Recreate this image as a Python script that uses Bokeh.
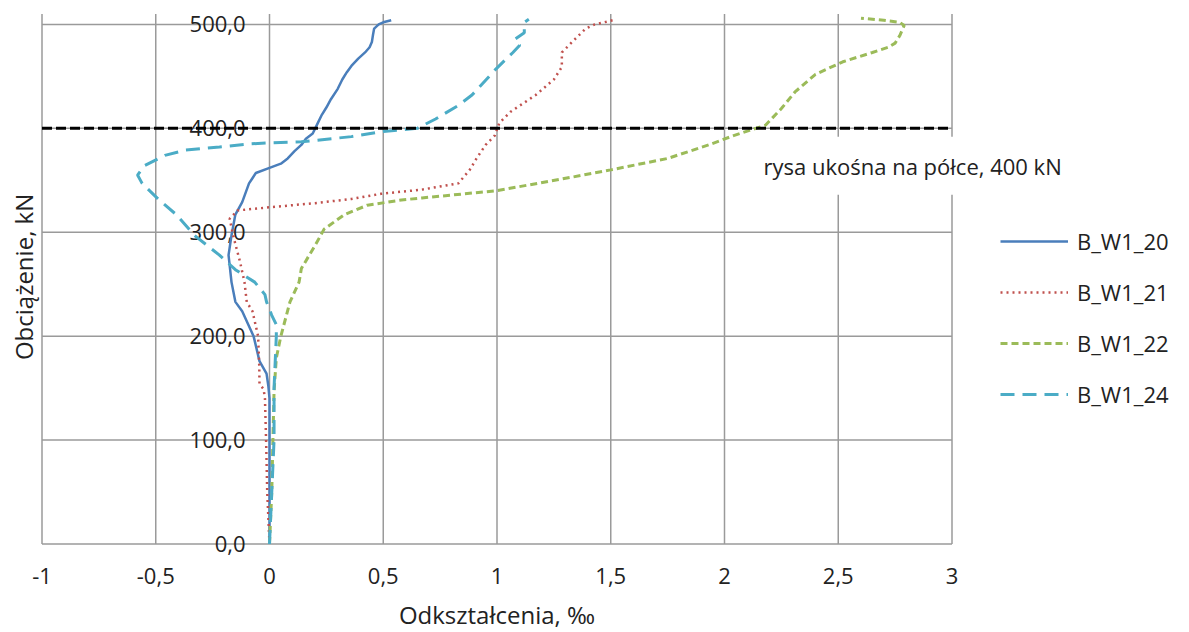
import math
from bokeh.plotting import figure
from bokeh.models import (Range1d, Label, Legend, LegendItem)
from bokeh.embed import file_html
from bokeh.resources import INLINE
from bokeh.core.properties import value

# ---------------- data ----------------
x_ticks = [-1, -0.5, 0, 0.5, 1, 1.5, 2, 2.5, 3]
x_tick_labels = ["-1", "-0,5", "0", "0,5", "1", "1,5", "2", "2,5", "3"]
y_ticks = [0, 100, 200, 300, 400, 500]
y_tick_labels = ["0,0", "100,0", "200,0", "300,0", "400,0", "500,0"]
y_top = 510          # upper end of the plot area (kN)

series_names = ["B_W1_20", "B_W1_21", "B_W1_22", "B_W1_24"]

y20 = [0, 50, 100, 140, 152, 164, 176, 200, 224, 233, 252, 278, 297, 317, 329,
       347, 352, 357, 362, 366, 371, 378, 384, 390, 395, 404, 413, 420, 428, 438,
       447, 454, 460, 467, 473, 478, 483, 490, 496, 500, 502, 504]
x20 = [0, 0.0, 0.0, 0.0, -0.005, -0.013, -0.044, -0.07, -0.12, -0.15, -0.167,
       -0.18, -0.167, -0.15, -0.12, -0.09, -0.075, -0.06, 0.0, 0.05, 0.08, 0.11,
       0.14, 0.16, 0.19, 0.21, 0.23, 0.25, 0.27, 0.30, 0.32, 0.34, 0.36, 0.39,
       0.42, 0.44, 0.45, 0.455, 0.46, 0.48, 0.50, 0.535]

y21 = [0, 50, 100, 140, 149, 154, 171, 200, 224, 233, 252, 272, 297, 313, 321,
       324, 328, 332, 337, 341, 347, 360, 371, 384, 393, 405, 416, 432, 447,
       459, 473, 483, 496, 500, 504]
x21 = [0, -0.01, -0.015, -0.02, -0.026, -0.044, -0.045, -0.05, -0.075, -0.1,
       -0.11, -0.13, -0.16, -0.175, -0.14, 0.0, 0.2, 0.36, 0.49, 0.67, 0.83,
       0.88, 0.91, 0.95, 0.99, 1.01, 1.06, 1.17, 1.25, 1.285, 1.285, 1.33, 1.39,
       1.43, 1.51]

y22 = [0, 50, 100, 147, 179, 200, 233, 252, 265, 291, 303, 317, 326, 331, 333,
       340, 353, 360, 371, 384, 393, 398, 403, 419, 435, 452, 464, 473, 478,
       482, 489, 499, 502, 504, 506]
x22 = [0, 0.01, 0.015, 0.02, 0.03, 0.05, 0.09, 0.13, 0.14, 0.21, 0.24, 0.33,
       0.43, 0.58, 0.67, 1.0, 1.33, 1.5, 1.75, 1.93, 2.04, 2.11, 2.18, 2.25,
       2.31, 2.4, 2.52, 2.65, 2.72, 2.75, 2.77, 2.79, 2.77, 2.7, 2.6]

y24 = [0, 50, 100, 150, 200, 211, 220, 233, 240, 252, 264, 278, 297, 317, 332,
       347, 355, 364, 374, 379, 382, 385, 386, 387, 392, 397, 400, 409, 422,
       432, 457, 473, 480, 483, 486, 492, 502, 505]
x24 = [0, 0.01, 0.02, 0.02, 0.03, 0.03, 0.01, -0.013, -0.02, -0.065, -0.15,
       -0.22, -0.33, -0.41, -0.49, -0.56, -0.58, -0.55, -0.46, -0.37, -0.22,
       -0.09, 0.0, 0.14, 0.36, 0.5, 0.65, 0.73, 0.83, 0.89, 0.995, 1.07, 1.1,
       1.09, 1.08, 1.12, 1.12, 1.14]

crack_load = 400
crack_text = "rysa ukośna na półce, 400 kN"
x_title = "Odkształcenia, ‰"
y_title = "Obciążenie, kN"

# ---------------- geometry (screen) ----------------
W, H = 1185, 632
PX_X = 910 / 4.0          # px per strain unit
PX_Y = 530 / 510.0        # px per kN
LEFT = 41.5               # screen x of x = -1
ZERO_Y = 543.5            # screen y of load = 0

x0 = x_ticks[0] - LEFT / PX_X
x1 = x0 + W / PX_X
y1 = ZERO_Y / PX_Y
y0 = y1 - H / PX_Y


def sy(dy_px):
    """offset in px below load 0 -> data units"""
    return -dy_px / PX_Y


FONT = "Open Sans"
FS = "22px"
FT = "24px"
TXT = "#222222"

p = figure(width=W, height=H, x_range=Range1d(x0, x1), y_range=Range1d(y0, y1),
           output_backend="svg", toolbar_location=None, min_border=0)
p.outline_line_color = None
p.axis.visible = False
p.grid.visible = False
p.background_fill_color = "white"
p.border_fill_color = "white"

# grid lines drawn over the plot area only
GRID = "#9a9a9a"
p.segment(x0=x_ticks, y0=[y_ticks[0]] * len(x_ticks), x1=x_ticks,
          y1=[y_top] * len(x_ticks), line_color=GRID, line_width=1.5)
p.segment(x0=[x_ticks[0]] * len(y_ticks), y0=y_ticks,
          x1=[x_ticks[-1]] * len(y_ticks), y1=y_ticks,
          line_color=GRID, line_width=1.5)

# y tick labels placed just left of x = 0
p.text(x=[-0.105] * len(y_ticks), y=y_ticks, text=y_tick_labels,
       text_align="right", text_baseline="middle", text_font=value(FONT),
       text_font_size=FS, text_color=TXT)

# x tick labels below the plot area
p.text(x=x_ticks, y=[sy(32)] * len(x_ticks), text=x_tick_labels,
       text_align="center", text_baseline="middle", text_font=value(FONT),
       text_font_size=FS, text_color=TXT)

# series
colors = ["#4a7ebb", "#c0504d", "#9bbb59", "#4bacc6"]
dashes = ["solid", "2 4", "7 4", "14 8"]
widths = [2.5, 2.5, 3, 3]
data = [(x20, y20), (x21, y21), (x22, y22), (x24, y24)]
renderers = []
for (xs, ys), c, d, w in zip(data, colors, dashes, widths):
    r = p.line(xs, ys, line_color=c, line_dash=d, line_width=w)
    renderers.append(r)

# crack line
p.line(x=[x_ticks[0], x_ticks[-1]], y=[crack_load, crack_load],
       line_color="black", line_width=3, line_dash="10 4")

# axis titles
p.add_layout(Label(x=x_ticks[0] - 19.0 / PX_X, y=257, text=y_title,
                   angle=math.pi / 2, text_align="center",
                   text_baseline="middle", text_font=FONT,
                   text_font_size=FT, text_color=TXT))
p.add_layout(Label(x=1.0, y=sy(70), text=x_title, text_align="center",
                   text_baseline="middle", text_font=FONT,
                   text_font_size=FT, text_color=TXT))

# crack annotation
p.add_layout(Label(x=2.11, y=364, text=crack_text, text_align="left",
                   text_baseline="middle", text_font=FONT,
                   text_font_size=FS, text_color=TXT,
                   background_fill_color="white", padding=14))

# legend
legend = Legend(items=[LegendItem(label=n, renderers=[r])
                       for n, r in zip(series_names, renderers)],
                location=(1000, H - 409))
legend.border_line_color = None
legend.background_fill_alpha = 0
legend.padding = 0
legend.margin = 0
legend.glyph_width = 68
legend.glyph_height = 26
legend.label_height = 26
legend.spacing = 21
legend.label_standoff = 9
legend.label_text_font = FONT
legend.label_text_font_size = FS
legend.label_text_color = TXT
p.add_layout(legend)

open("out.html", "w").write(file_html(p, INLINE))
